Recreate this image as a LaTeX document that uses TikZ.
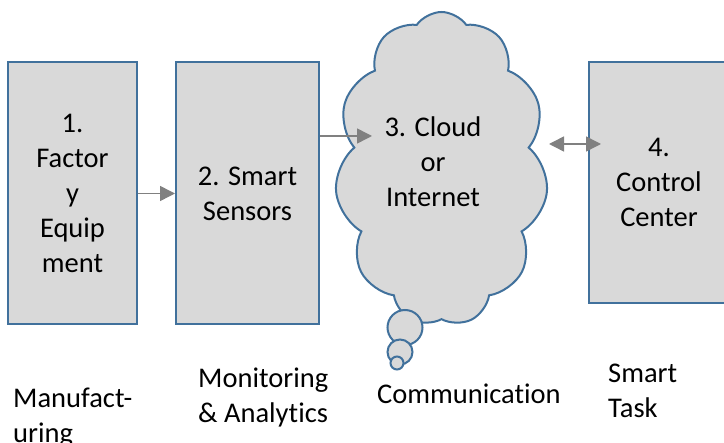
\documentclass[tikz,border=0pt]{standalone}
\usepackage{fontspec}
\setmainfont{Carlito}[Ligatures=NoCommon]
\usetikzlibrary{arrows.meta,positioning,shapes.symbols}
\definecolor{boxfill}{HTML}{D9D9D9}
\definecolor{boxline}{HTML}{41719C}
\definecolor{arrowgray}{HTML}{808080}

\begin{document}
\begin{tikzpicture}[x=1pt,y=-1pt,
    stage/.style={draw=boxline, fill=boxfill, line width=2pt, align=center, inner sep=0pt, font=\fontsize{28.5}{35}\selectfont},
    cloudstage/.style={stage, cloud, cloud puffs=11, cloud puff arc=110, aspect=0.68},
    stagetext/.style={align=center, inner sep=0pt, font=\fontsize{28.5}{35}\selectfont},
    bubble/.style={circle, draw=boxline, fill=boxfill, line width=2pt, inner sep=0pt},
    flow/.style={draw=arrowgray, line width=1.5pt, -{Triangle[length=15pt,width=15pt]}},
    twoway/.style={flow, {Triangle[length=15pt,width=15pt]}-{Triangle[length=15pt,width=15pt]}},
    caption/.style={align=left, inner sep=0pt, anchor=base west, font=\fontsize{28.5}{35}\selectfont}]

    \useasboundingbox (0,0) rectangle (724,443);

    % Stages
    \node[stage, minimum width=129pt, minimum height=262pt] (equip) at (72.5,193.5) {1.\\Factor\\y\\Equip\\ment};
    \node[stage, minimum width=143pt, minimum height=262pt] (sensors) at (247.5,193.5) {2. Smart\\Sensors};
    \node[cloudstage, minimum width=213pt, minimum height=314pt] (cloud) at (441.5,169) {};
    \node[stagetext] (cloudlabel) at (433,162) {3. Cloud\\or\\Internet};
    \node[stage, minimum width=140pt, minimum height=241pt] (control) at (659,182.5) {4.\\Control\\Center};

    % Thought bubbles under the cloud
    \node[bubble, minimum size=35pt] (bubblea) at (405,327.5) {};
    \node[bubble, minimum size=25pt] (bubbleb) at (400,352) {};
    \node[bubble, minimum size=13pt] (bubblec) at (397,363) {};

    % Connectors
    \coordinate (cloudin) at (372,136);
    \coordinate (cloudout) at (549,144);
    \draw[flow] (equip) -- (sensors);
    \draw[flow] ([yshift=57.5pt]sensors.east) -- (cloudin);
    \draw[twoway] (cloudout) -- ([xshift=13pt,yshift=38.5pt]control.west);

    % Captions (base = last line)
    \node[caption] (manuf) at (13,443) {Manufact-\\uring};
    \node[caption] (monit) at (198,423) {Monitoring\\\& Analytics};
    \node[caption] (comm) at (377,404) {Communication};
    \node[caption] (task) at (608,418) {Smart\\Task};
\end{tikzpicture}
\end{document}
